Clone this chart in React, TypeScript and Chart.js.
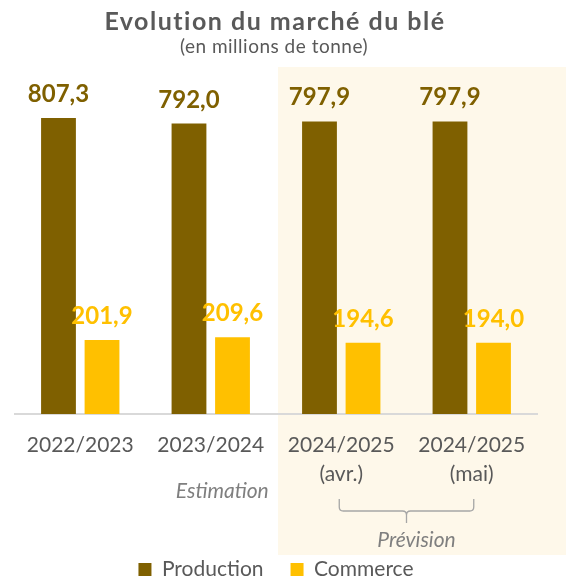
import React, { useEffect, useRef } from "react";
import { Chart, registerables } from "chart.js";

Chart.register(...registerables);

// ---- data ----
const categories: (string | string[])[] = [
  "2022/2023",
  "2023/2024",
  ["2024/2025", "(avr.)"],
  ["2024/2025", "(mai)"],
];
const productionValues = [807.3, 792.0, 797.9, 797.9];
const commerceValues = [201.9, 209.6, 194.6, 194.0];
const seriesNames = ["Production", "Commerce"];
const yMin = 0;
const yMax = 900;
const titleText = "Evolution du marché du blé";
const subtitleText = "(en millions de tonne)";
const estimationText = "Estimation";
const previsionText = "Prévision";

// ---- styles ----
const FONT = "Lato, 'Noto Sans', sans-serif";
const PROD_COLOR = "#7F6000";
const COMM_COLOR = "#FFC000";
const TEXT_COLOR = "#595959";
const NOTE_COLOR = "#7F7F7F";
const SHADE_COLOR = "#FEF8EA";

const fmt = (v: number) => v.toFixed(1).replace(".", ",");

const decorPlugin = {
  id: "decor",
  beforeDraw(chart: any) {
    const { ctx } = chart;
    const x = chart.scales.x;
    const left = x.getPixelForValue(1.5) + 2;
    ctx.save();
    ctx.fillStyle = SHADE_COLOR;
    ctx.fillRect(left, 67, chart.width - left, 555 - 67);
    ctx.restore();
  },
  afterDatasetsDraw(chart: any) {
    const { ctx } = chart;
    ctx.save();
    ctx.textAlign = "center";
    ctx.textBaseline = "alphabetic";
    ctx.font = `bold 24px ${FONT}`;
    chart.data.datasets.forEach((ds: any, di: number) => {
      const meta = chart.getDatasetMeta(di);
      ctx.fillStyle = ds.backgroundColor;
      meta.data.forEach((el: any, i: number) => {
        ctx.fillText(fmt(ds.data[i]), el.x, el.y - 16);
      });
    });
    ctx.restore();
  },
  afterDraw(chart: any) {
    const { ctx } = chart;
    const x = chart.scales.x;
    ctx.save();
    // title
    ctx.fillStyle = TEXT_COLOR;
    ctx.textAlign = "center";
    ctx.textBaseline = "alphabetic";
    ctx.font = `bold 25px ${FONT}`;
    (ctx as any).letterSpacing = "1.5px";
    ctx.fillText(titleText, 275, 30);
    ctx.font = `19px ${FONT}`;
    (ctx as any).letterSpacing = "0.5px";
    ctx.fillText(subtitleText, 274, 53);
    (ctx as any).letterSpacing = "0px";

    const p1 = x.getPixelForValue(1);
    const p2 = x.getPixelForValue(2);
    const p3 = x.getPixelForValue(3);

    // Estimation
    ctx.fillStyle = NOTE_COLOR;
    ctx.font = `italic 21px ${FONT}`;
    ctx.textAlign = "right";
    ctx.fillText(estimationText, p1 + 58, 498);

    // brace
    const l = p2 - 2;
    const r = p3 + 2;
    const mid = (l + r) / 2;
    const top = 499;
    const hy = 511;
    const bot = 523;
    const rad = 4;
    ctx.strokeStyle = "#A6A6A6";
    ctx.lineWidth = 1.3;
    ctx.beginPath();
    ctx.moveTo(l, top);
    ctx.lineTo(l, hy - rad);
    ctx.quadraticCurveTo(l, hy, l + rad, hy);
    ctx.lineTo(mid - rad, hy);
    ctx.quadraticCurveTo(mid, hy, mid, hy + rad);
    ctx.lineTo(mid, bot);
    ctx.moveTo(mid, hy + rad);
    ctx.quadraticCurveTo(mid, hy, mid + rad, hy);
    ctx.lineTo(r - rad, hy);
    ctx.quadraticCurveTo(r, hy, r, hy - rad);
    ctx.lineTo(r, top);
    ctx.stroke();

    // Prévision
    ctx.textAlign = "center";
    ctx.fillText(previsionText, mid + 10, 547);
    ctx.restore();
  },
};

export default function App() {
  const canvasRef = useRef<HTMLCanvasElement | null>(null);

  useEffect(() => {
    if (!canvasRef.current) return;
    const chart = new Chart(canvasRef.current, {
      type: "bar",
      data: {
        labels: categories,
        datasets: [
          {
            label: seriesNames[0],
            data: productionValues,
            backgroundColor: PROD_COLOR,
            categoryPercentage: 0.667,
            barPercentage: 0.8,
          },
          {
            label: seriesNames[1],
            data: commerceValues,
            backgroundColor: COMM_COLOR,
            categoryPercentage: 0.667,
            barPercentage: 0.8,
          },
        ],
      },
      options: {
        animation: false,
        responsive: false,
        layout: { padding: { top: 84, left: 15, right: 29, bottom: 0 } },
        plugins: {
          legend: {
            position: "bottom",
            maxHeight: 47,
            labels: {
              boxWidth: 13,
              boxHeight: 13,
              padding: 27,
              color: TEXT_COLOR,
              font: { family: FONT, size: 21 },
            },
          },
          title: { display: false },
          tooltip: { enabled: false },
        },
        scales: {
          x: {
            grid: { display: false, drawTicks: false },
            border: { display: true, color: "#D9D9D9", width: 2 },
            ticks: {
              color: TEXT_COLOR,
              font: { family: FONT, size: 21, lineHeight: 1.38 },
              padding: 17,
              maxRotation: 0,
              autoSkip: false,
            },
            afterFit: (s: any) => {
              s.height = 118;
            },
          },
          y: { display: false, min: yMin, max: yMax },
        },
      } as any,
      plugins: [decorPlugin],
    });
    return () => chart.destroy();
  }, []);

  return (
    <div style={{ position: "absolute", left: 0, top: 0, width: 566, height: 579 }}>
      <canvas ref={canvasRef} width={566} height={579} style={{ display: "block" }} />
    </div>
  );
}
